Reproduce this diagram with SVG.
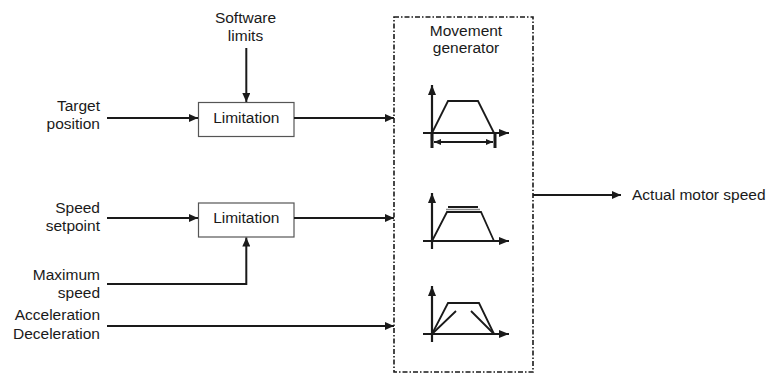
<svg xmlns="http://www.w3.org/2000/svg" width="778" height="374" viewBox="0 0 778 374">
  <style>
    .t { font-family: "Liberation Sans", Arial, sans-serif; font-size: 15.5px; fill: #1a1a1a; }
    .e { text-anchor: end; }
    .m { text-anchor: middle; }
    .ln { stroke: #1a1a1a; stroke-width: 2; fill: none; }
    .box { fill: #ffffff; stroke: #555555; stroke-width: 1.2; }
    .frame { fill: none; stroke: #1a1a1a; stroke-width: 1.6; stroke-dasharray: 5 2 1.5 2; }
    .ax { stroke: #1a1a1a; stroke-width: 2.2; fill: none; }
    .cv { stroke: #1a1a1a; stroke-width: 1.8; fill: none; stroke-linejoin: miter; }
    .bar { stroke: #1a1a1a; stroke-width: 3; fill: none; }
  </style>
  <defs>
    <marker id="arr" markerUnits="userSpaceOnUse" markerWidth="9" markerHeight="8" refX="9" refY="4" orient="auto">
      <path d="M0,0 L9,4 L0,8 z" fill="#1a1a1a"/>
    </marker>
    <marker id="axArr" markerUnits="userSpaceOnUse" markerWidth="10" markerHeight="8" refX="10" refY="4" orient="auto">
      <path d="M0,0 L10,4 L0,8 z" fill="#1a1a1a"/>
    </marker>
    <marker id="sm" markerUnits="userSpaceOnUse" markerWidth="7" markerHeight="6" refX="7" refY="3" orient="auto-start-reverse">
      <path d="M0,0 L7,3 L0,6 z" fill="#1a1a1a"/>
    </marker>
    <!-- speed/time axes, origin at the corner -->
    <g id="axes">
      <path class="ax" d="M0,8 V-48" marker-end="url(#axArr)"/>
      <path class="ax" d="M-9,0 H77" marker-end="url(#axArr)"/>
    </g>
  </defs>

  <!-- input labels -->
  <g id="software-limits">
    <text class="t m" x="245.5" y="22.5">Software</text>
    <text class="t m" x="245.5" y="40.5">limits</text>
  </g>
  <g id="target-position">
    <text class="t e" x="100" y="111">Target</text>
    <text class="t e" x="100" y="129">position</text>
  </g>
  <g id="speed-setpoint">
    <text class="t e" x="100" y="212.5">Speed</text>
    <text class="t e" x="100" y="230.5">setpoint</text>
  </g>
  <g id="maximum-speed">
    <text class="t e" x="100" y="279.5">Maximum</text>
    <text class="t e" x="100" y="297.5">speed</text>
  </g>
  <g id="acceleration">
    <text class="t e" x="100" y="320">Acceleration</text>
    <text class="t e" x="100" y="339">Deceleration</text>
  </g>

  <!-- limitation blocks -->
  <g id="limitation-position">
    <rect class="box" x="198.5" y="102.5" width="95.5" height="34"/>
    <text class="t m" x="246.3" y="122.5">Limitation</text>
  </g>
  <g id="limitation-speed">
    <rect class="box" x="198.5" y="203" width="95.5" height="34"/>
    <text class="t m" x="246.3" y="222.5">Limitation</text>
  </g>

  <!-- movement generator -->
  <g id="movement-generator">
    <rect class="frame" x="394" y="17" width="139" height="355"/>
    <text class="t m" x="466" y="36">Movement</text>
    <text class="t m" x="466" y="53">generator</text>

    <!-- position profile -->
    <g transform="translate(432,133)">
      <use href="#axes"/>
      <path class="cv" d="M0,0 L16,-32 H46 L62,0"/>
      <path class="bar" d="M0,0 V15 M63,0 V15"/>
      <path class="ln" d="M2,9 H61" marker-start="url(#sm)" marker-end="url(#sm)"/>
    </g>

    <!-- speed profile -->
    <g transform="translate(432,241)">
      <use href="#axes"/>
      <path d="M16,-34 H46" stroke="#1a1a1a" stroke-width="2" fill="none"/>
      <path d="M14,-31.5 H48" stroke="#8a8a8a" stroke-width="1.4" fill="none"/>
      <path class="cv" d="M0,0 L15,-29 H49 L62,0"/>
    </g>

    <!-- acceleration profile -->
    <g transform="translate(432,334)">
      <use href="#axes"/>
      <path class="cv" d="M0,0 L16,-31 H47 L62,0"/>
      <path class="cv" d="M0,0 L24,-23 M39,-23 L62,0"/>
    </g>
  </g>

  <g id="actual-motor-speed">
    <text class="t" x="632" y="200">Actual motor speed</text>
  </g>

  <!-- connectors -->
  <g id="connectors">
    <path class="ln" d="M246.3,48 V102" marker-end="url(#arr)"/>
    <path class="ln" d="M107,118 H198" marker-end="url(#arr)"/>
    <path class="ln" d="M294,118 H394" marker-end="url(#arr)"/>
    <path class="ln" d="M107,218 H198" marker-end="url(#arr)"/>
    <path class="ln" d="M294,218 H394" marker-end="url(#arr)"/>
    <path class="ln" d="M107,284 H246.3 V237.5" marker-end="url(#arr)"/>
    <path class="ln" d="M107,326 H394" marker-end="url(#arr)"/>
    <path class="ln" d="M533,195 H621" marker-end="url(#arr)"/>
  </g>
</svg>
